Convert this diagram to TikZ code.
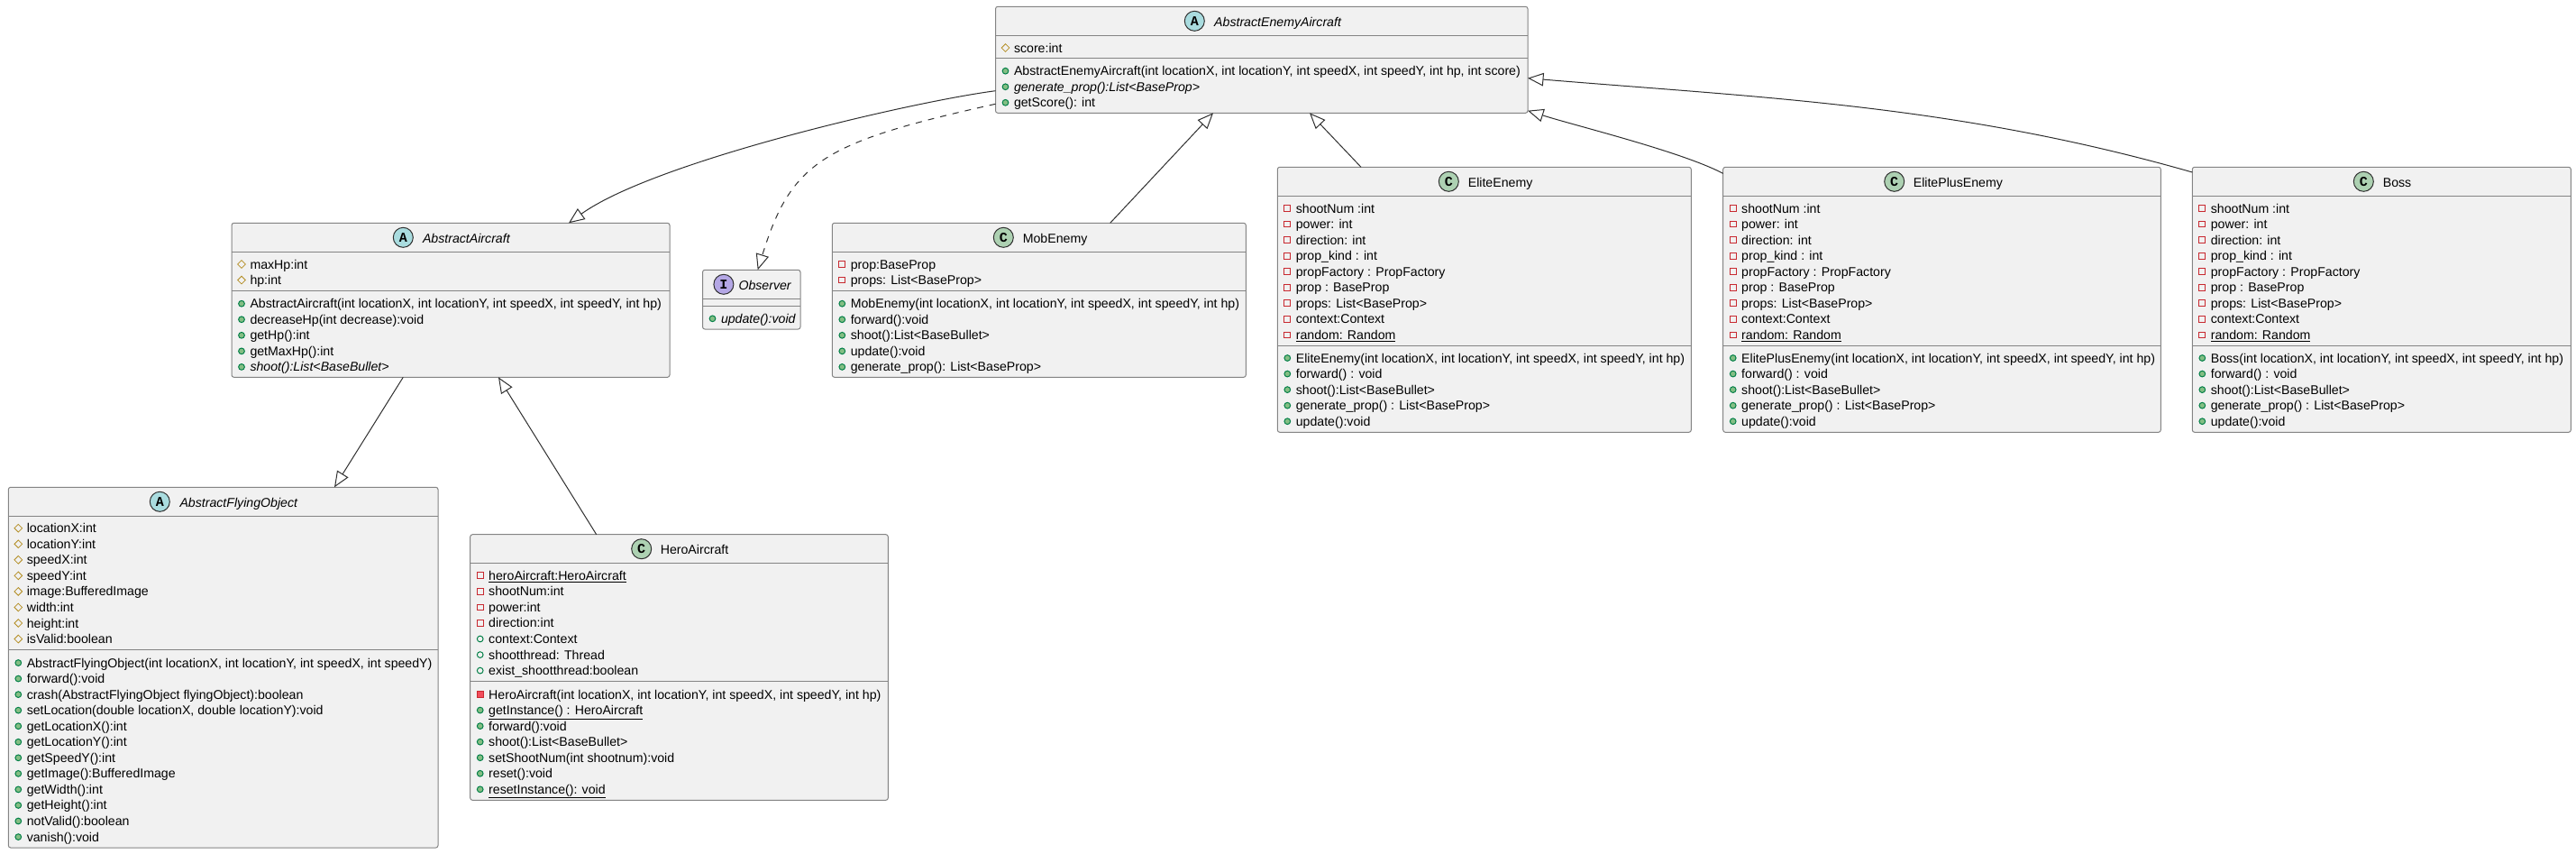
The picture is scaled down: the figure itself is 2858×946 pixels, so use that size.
\documentclass[tikz,border=0pt]{standalone}
\usepackage{fontspec}
\setmainfont{Liberation Sans}
\setmonofont{Liberation Mono}
\usetikzlibrary{arrows.meta,shapes.geometric}
\definecolor{boxfill}{HTML}{F1F1F1}
\definecolor{boxline}{HTML}{848484}
\definecolor{ink}{HTML}{303030}
\definecolor{gregreen}{HTML}{ADD1B2}
\definecolor{absblue}{HTML}{A9DCDF}
\definecolor{ifpurple}{HTML}{B4A7E5}
\definecolor{publine}{HTML}{038048}
\definecolor{pubfill}{HTML}{84BE84}
\definecolor{privline}{HTML}{C82930}
\definecolor{privfill}{HTML}{F24D5C}
\definecolor{protline}{HTML}{B38D22}
\newcommand{\rowsof}[4]{%
  \foreach \mk/\txt [count=\i] in {#4} {
    \node[\mk] (#1m\i) at ({#2+11},{#3+17.55*(\i-1)}) {};
    \node[rowtxt] (#1t\i) at ({#2+20},{#3+17.55*(\i-1)+5}) {\txt};
  }%
}

\begin{document}
\begin{tikzpicture}[
  x=1pt, y=-1pt, line width=1pt,
  cls/.style={draw=boxline, fill=boxfill, rounded corners=2.5pt, anchor=north west,
              inner sep=0pt, outer sep=0pt},
  sepline/.style={draw=boxline},
  icon/.style={circle, draw=ink, minimum size=22pt, inner sep=0pt,
               font=\ttfamily\bfseries\fontsize{15}{15}\selectfont},
  ttltxt/.style={anchor=base west, inner sep=0pt, font=\fontsize{14.15}{16}\selectfont},
  rowtxt/.style={anchor=base west, inner sep=0pt, font=\fontsize{14.15}{16}\selectfont},
  privf/.style={rectangle, draw=privline, minimum size=6.7pt, inner sep=0pt},
  privm/.style={rectangle, draw=privline, fill=privfill, minimum size=6.7pt, inner sep=0pt},
  pubf/.style={circle, draw=publine, minimum size=6.7pt, inner sep=0pt},
  pubm/.style={circle, draw=publine, fill=pubfill, minimum size=6.7pt, inner sep=0pt},
  protf/.style={diamond, draw=protline, line width=.8pt, aspect=1, minimum size=9pt, inner sep=0pt},
  ext/.style={draw=ink, -{Triangle[open, length=17.5pt, width=14.5pt]}},
  impl/.style={ext, dash pattern=on 7pt off 7pt}]

\useasboundingbox (0,0) rectangle (2858,946);

\foreach \c/\x/\y/\w/\h/\lna/\lnb/\ix/\tx/\col/\ltr/\ttl in {
  ae/1104.5/7.3/590.5/118/32/57/1325.3/1346.7/absblue/A/{\textit{AbstractEnemyAircraft}},
  aa/257/247.3/486/171/32/75/447.3/468.5/absblue/A/{\textit{AbstractAircraft}},
  ob/779.5/299.3/108.5/65.7/32/40/802.9/819/ifpurple/I/{\textit{Observer}},
  mb/923.3/247.3/459/171/32/75/1113.3/1134.3/gregreen/C/MobEnemy,
  el/1417.3/185.3/459/294/32/198/1607.3/1628.3/gregreen/C/EliteEnemy,
  ep/1911.7/185.3/485.6/294/32/198/2101.7/2122.3/gregreen/C/ElitePlusEnemy,
  bs/2432.3/185.3/420/294/32/198/2622.3/2643.3/gregreen/C/Boss,
  fl/9.3/540.3/476.7/399.7/32/180.4/177.3/199/absblue/A/{\textit{AbstractFlyingObject}},
  he/521.7/592.7/463.6/294.6/31.5/162.3/711.7/732.3/gregreen/C/HeroAircraft} {
  \node[cls, minimum width=\w pt, minimum height=\h pt] (\c) at (\x,\y) {};
  \draw[sepline] ([yshift=-\lna pt]\c.north west) -- ([yshift=-\lna pt]\c.north east);
  \draw[sepline] ([yshift=-\lnb pt]\c.north west) -- ([yshift=-\lnb pt]\c.north east);
  \node[icon, fill=\col] (\c i) at (\ix,\y+16) {\ltr};
  \node[ttltxt] (\c n) at (\tx,\y+21.8) {\ttl};
}

\rowsof{aef}{1104.5}{53}{protf/score:int}
\rowsof{aem}{1104.5}{78.7}{
  pubm/{AbstractEnemyAircraft(int locationX, int locationY, int speedX, int speedY, int hp, int score)},
  pubm/{\textit{generate\_prop():List<BaseProp>}},
  pubm/getScore(): int}

\rowsof{aaf}{257}{293}{protf/maxHp:int, protf/hp:int}
\rowsof{aam}{257}{336.7}{
  pubm/{AbstractAircraft(int locationX, int locationY, int speedX, int speedY, int hp)},
  pubm/decreaseHp(int decrease):void,
  pubm/getHp():int,
  pubm/getMaxHp():int,
  pubm/{\textit{shoot():List<BaseBullet>}}}

\rowsof{obm}{779.5}{353.3}{pubm/{\textit{update():void}}}

\rowsof{mbf}{923.3}{293}{privf/prop:BaseProp, privf/props: List<BaseProp>}
\rowsof{mbm}{923.3}{336.7}{
  pubm/{MobEnemy(int locationX, int locationY, int speedX, int speedY, int hp)},
  pubm/forward():void,
  pubm/shoot():List<BaseBullet>,
  pubm/update():void,
  pubm/generate\_prop(): List<BaseProp>}

\foreach \c/\x/\ttl in {el/1417.3/EliteEnemy, ep/1911.7/ElitePlusEnemy, bs/2432.3/Boss} {
  \rowsof{\c f}{\x}{231}{
    privf/shootNum :int,
    privf/power: int,
    privf/direction: int,
    privf/prop\_kind : int,
    privf/propFactory : PropFactory,
    privf/prop : BaseProp,
    privf/props: List<BaseProp>,
    privf/context:Context,
    privf/{\underline{random: Random}}}
  \rowsof{\c m}{\x}{397}{
    pubm/{\ttl(int locationX, int locationY, int speedX, int speedY, int hp)},
    pubm/forward() : void,
    pubm/shoot():List<BaseBullet>,
    pubm/generate\_prop() : List<BaseProp>,
    pubm/update():void}
}

\rowsof{flf}{9.3}{585.7}{
  protf/locationX:int, protf/locationY:int, protf/speedX:int, protf/speedY:int,
  protf/image:BufferedImage, protf/width:int, protf/height:int, protf/isValid:boolean}
\rowsof{flm}{9.3}{735}{
  pubm/{AbstractFlyingObject(int locationX, int locationY, int speedX, int speedY)},
  pubm/forward():void,
  pubm/crash(AbstractFlyingObject flyingObject):boolean,
  pubm/{setLocation(double locationX, double locationY):void},
  pubm/getLocationX():int,
  pubm/getLocationY():int,
  pubm/getSpeedY():int,
  pubm/getImage():BufferedImage,
  pubm/getWidth():int,
  pubm/getHeight():int,
  pubm/notValid():boolean,
  pubm/vanish():void}

\rowsof{hef}{521.7}{638.3}{
  privf/{\underline{heroAircraft:HeroAircraft}},
  privf/shootNum:int,
  privf/power:int,
  privf/direction:int,
  pubf/context:Context,
  pubf/shootthread: Thread,
  pubf/exist\_shootthread:boolean}
\rowsof{hem}{521.7}{770}{
  privm/{HeroAircraft(int locationX, int locationY, int speedX, int speedY, int hp)},
  pubm/{\underline{getInstance() : HeroAircraft}},
  pubm/forward():void,
  pubm/shoot():List<BaseBullet>,
  pubm/setShootNum(int shootnum):void,
  pubm/reset():void,
  pubm/{\underline{resetInstance(): void}}}

\draw[ext] ([yshift=-93.4pt]ae.north west) .. controls (1010.7,113) and (725.5,179.2) .. ([xshift=374pt]aa.north west);
\draw[impl] ([yshift=-108pt]ae.north west) .. controls (913.6,157.6) and (878,178.9) .. ([xshift=61.2pt]ob.north west);
\draw[ext] ([xshift=308.4pt]mb.north west) -- ([xshift=241.5pt]ae.south west);
\draw[ext] ([xshift=92.7pt]el.north west) -- ([xshift=348.5pt]ae.south west);
\draw[ext] ([yshift=-7pt]ep.north west) .. controls (1865,168) and (1750,140) .. ([yshift=2.6pt]ae.south east);
\draw[ext] ([yshift=-5.7pt]bs.north west) .. controls (2171,116.3) and (1956.6,108.5) .. ([yshift=-79.4pt]ae.north east);
\draw[ext] ([xshift=190.3pt]aa.south west) -- ([xshift=361.7pt]fl.north west);
\draw[ext] ([xshift=140pt]he.north west) -- ([xshift=296pt]aa.south west);
\end{tikzpicture}
\end{document}
